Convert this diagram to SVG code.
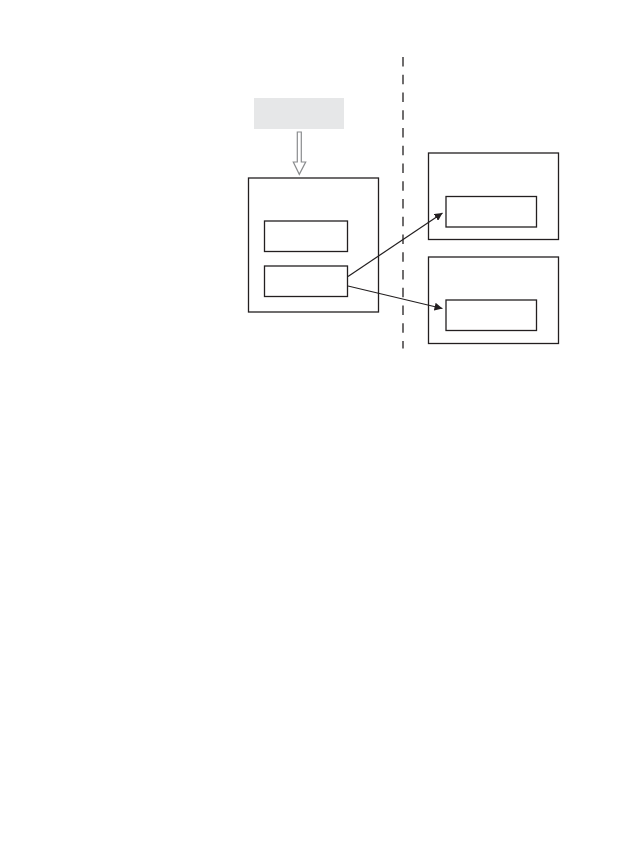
<svg xmlns="http://www.w3.org/2000/svg" width="644" height="851" viewBox="0 0 644 851">
<defs>
<style>
.box{fill:#fff;stroke:#231f20;stroke-width:1.3}
.conn{fill:none;stroke:#231f20;stroke-width:1.2}
</style>
<marker id="ah" viewBox="0 0 10 10" refX="10" refY="5" markerWidth="8" markerHeight="8" markerUnits="userSpaceOnUse" orient="auto">
<path d="M0,0 L10,5 L0,10 z" fill="#231f20"/>
</marker>
</defs>
<rect width="644" height="851" fill="#fff"/>
<line x1="403" y1="57" x2="403" y2="348.5" stroke="#231f20" stroke-width="1.3" stroke-dasharray="9.5 8.25"/>
<g id="source">
<rect x="254" y="98" width="90" height="31" fill="#e6e7e8"/>
</g>
<g id="left">
<rect class="box" x="248.5" y="178" width="130" height="134"/>
</g>
<g id="left-a">
<rect class="box" x="264.5" y="221" width="83" height="30.5"/>
</g>
<g id="left-b">
<rect class="box" x="264.5" y="266" width="83" height="30.5"/>
</g>
<g id="right-top">
<rect class="box" x="428.5" y="153" width="130" height="86.5"/>
</g>
<g id="right-top-inner">
<rect class="box" x="446" y="196.5" width="90.5" height="30.5"/>
</g>
<g id="right-bottom">
<rect class="box" x="428.5" y="257" width="130" height="86.5"/>
</g>
<g id="right-bottom-inner">
<rect class="box" x="446" y="300" width="90.5" height="30.5"/>
</g>
<g id="connectors">
<path d="M297.3,132 H301.3 V162 H305.7 L299.3,174.3 L293.3,162 H297.3 Z" fill="#fff" stroke="#8a8c8e" stroke-width="1.2" stroke-linejoin="miter"/>
<line class="conn" x1="348" y1="276.5" x2="442.5" y2="213" marker-end="url(#ah)"/>
<line class="conn" x1="348" y1="286" x2="442.5" y2="308.5" marker-end="url(#ah)"/>
</g>
</svg>
